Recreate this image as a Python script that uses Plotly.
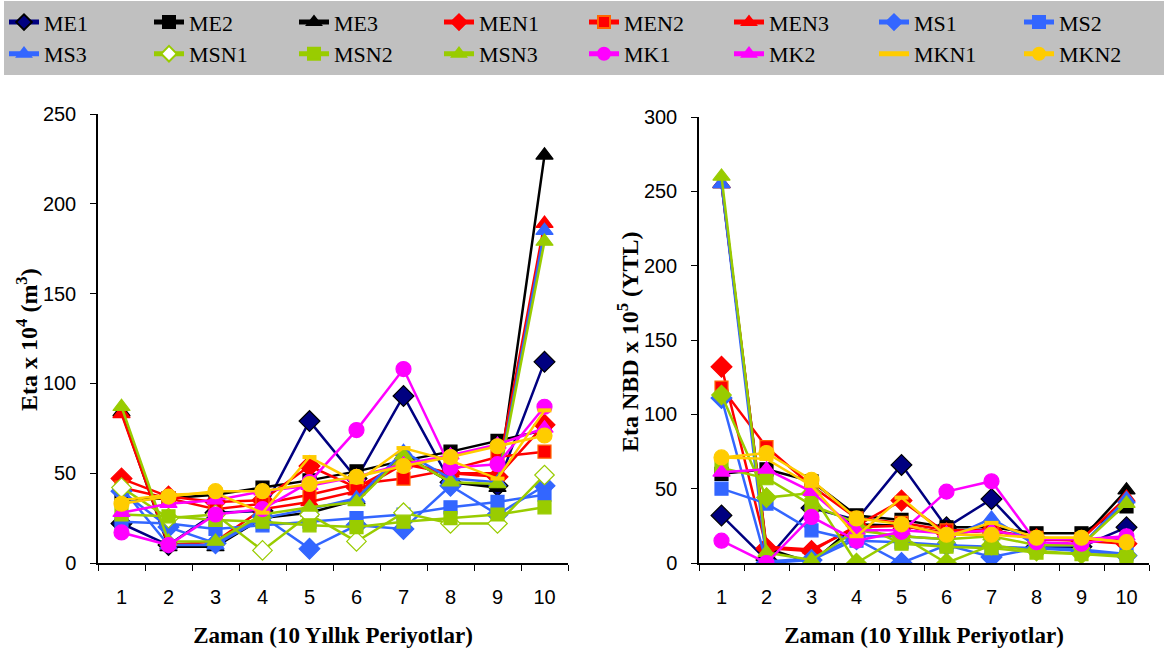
import plotly.graph_objects as go

categories = ["1", "2", "3", "4", "5", "6", "7", "8", "9", "10"]
series_names = ["ME1", "ME2", "ME3", "MEN1", "MEN2", "MEN3", "MS1", "MS2",
                "MS3", "MSN1", "MSN2", "MSN3", "MK1", "MK2", "MKN1", "MKN2"]

# Left chart: Eta x 10^4 (m3)
eta_ME1 = [22, 10, 28, 29, 79, 47, 93, 45, 43, 112]
eta_ME2 = [35, 36, 38, 42, 46, 51, 57, 62, 68, 74]
eta_ME3 = [84, 9, 9, 25, 28, 35, 60, 45, 42, 227]
eta_MEN1 = [47, 37, 34, 35, 54, 42, 56, 50, 48, 77]
eta_MEN2 = [42, 36, 30, 33, 38, 44, 47, 52, 59, 62]
eta_MEN3 = [83, 10, 12, 30, 34, 40, 55, 50, 50, 189]
eta_MS1 = [40, 20, 11, 26, 8, 21, 19, 43, 27, 43]
eta_MS2 = [23, 22, 19, 21, 23, 25, 27, 31, 34, 38]
eta_MS3 = [42, 10, 10, 25, 30, 36, 62, 47, 45, 185]
eta_MSN1 = [42, 25, 27, 7, 27, 12, 28, 22, 22, 49]
eta_MSN2 = [27, 26, 24, 23, 21, 20, 23, 25, 27, 31]
eta_MSN3 = [87, 12, 12, 27, 31, 34, 60, 45, 44, 179]
eta_MK1 = [17, 10, 27, 30, 45, 74, 108, 53, 55, 87]
eta_MK2 = [28, 33, 35, 40, 43, 48, 55, 60, 66, 75]
eta_MKN1 = [35, 38, 39, 28, 59, 45, 64, 57, 47, 85]
eta_MKN2 = [33, 37, 40, 40, 44, 48, 54, 59, 65, 71]

# Right chart: Eta NBD x 10^5 (YTL)
nbd_ME1 = [32, 2, 37, 29, 66, 24, 43, 11, 11, 24]
nbd_ME2 = [60, 63, 55, 32, 29, 24, 24, 20, 20, 38]
nbd_ME3 = [255, 10, 0, 26, 25, 20, 22, 16, 16, 49]
nbd_MEN1 = [132, 10, 8, 25, 42, 20, 22, 16, 15, 13]
nbd_MEN2 = [118, 78, 52, 30, 27, 22, 22, 17, 16, 15]
nbd_MEN3 = [255, 11, 9, 24, 25, 20, 22, 16, 16, 44]
nbd_MS1 = [111, 0, 2, 16, 0, 12, 4, 10, 8, 5]
nbd_MS2 = [50, 40, 22, 15, 14, 12, 11, 10, 9, 6]
nbd_MS3 = [255, 1, 3, 18, 18, 16, 30, 12, 12, 43]
nbd_MSN1 = [113, 44, 47, 0, 18, 0, 12, 8, 6, 5]
nbd_MSN2 = [64, 57, 39, 27, 13, 11, 10, 7, 6, 4]
nbd_MSN3 = [260, 7, 2, 22, 18, 16, 18, 12, 12, 40]
nbd_MK1 = [15, 0, 31, 15, 21, 48, 55, 14, 13, 18]
nbd_MK2 = [61, 63, 48, 22, 22, 20, 22, 16, 16, 18]
nbd_MKN1 = [71, 70, 52, 18, 44, 18, 27, 17, 17, 14]
nbd_MKN2 = [71, 74, 56, 30, 26, 19, 19, 17, 17, 14]

left_values = [eta_ME1, eta_ME2, eta_ME3, eta_MEN1, eta_MEN2, eta_MEN3, eta_MS1, eta_MS2,
               eta_MS3, eta_MSN1, eta_MSN2, eta_MSN3, eta_MK1, eta_MK2, eta_MKN1, eta_MKN2]
right_values = [nbd_ME1, nbd_ME2, nbd_ME3, nbd_MEN1, nbd_MEN2, nbd_MEN3, nbd_MS1, nbd_MS2,
                nbd_MS3, nbd_MSN1, nbd_MSN2, nbd_MSN3, nbd_MK1, nbd_MK2, nbd_MKN1, nbd_MKN2]

NAVY, BLACK, RED, BLUE, GREEN, MAG, YEL = "#000080", "#000000", "#FF0000", "#3366FF", "#99CC00", "#FF00FF", "#FFCC00"
# (line color, symbol, fill, outline, size)
styles = [
    (NAVY, "diamond", NAVY, BLACK, 16),
    (BLACK, "square", BLACK, BLACK, 13),
    (BLACK, "triangle-up", BLACK, BLACK, 15),
    (RED, "diamond", RED, RED, 16),
    (RED, "square", RED, "#FF6600", 13),
    (RED, "triangle-up", RED, RED, 15),
    (BLUE, "diamond", BLUE, BLUE, 16),
    (BLUE, "square", BLUE, BLUE, 13),
    (BLUE, "triangle-up", BLUE, BLUE, 15),
    (GREEN, "diamond", "#FFFFFF", GREEN, 15),
    (GREEN, "square", GREEN, GREEN, 13),
    (GREEN, "triangle-up", GREEN, GREEN, 15),
    (MAG, "circle", MAG, MAG, 15),
    (MAG, "triangle-up", MAG, MAG, 15),
    (YEL, "line-ew-open", YEL, YEL, 10),
    (YEL, "circle", YEL, YEL, 15),
]

fig = go.Figure()
for i, name in enumerate(series_names):
    lc, sym, fill, outline, size = styles[i]
    for side, vals in (("left", left_values[i]), ("right", right_values[i])):
        f = fill
        if name == "MSN1" and side == "right":
            f = GREEN
        lw = 4 if sym == "line-ew-open" else 1.2
        fig.add_trace(go.Scatter(
            x=categories, y=vals, name=name, legendgroup=name,
            showlegend=(side == "left"),
            mode="lines+markers",
            line=dict(color=lc, width=2.5),
            marker=dict(symbol=sym, size=size, color=f,
                        line=dict(color=outline, width=lw)),
            xaxis="x" if side == "left" else "x2",
            yaxis="y" if side == "left" else "y2",
        ))

tickfont = dict(family="Liberation Sans, Arial", size=20, color="#000000")
titlefont = dict(family="Liberation Serif, Times New Roman", size=23, color="#000000")
ytitlefont = dict(family="Liberation Serif, Times New Roman", size=24, color="#000000")

xcommon = dict(type="category", range=[-0.5, 9.5], showline=True, linecolor="#000000",
               linewidth=1.5, ticks="outside", tickson="boundaries", ticklen=6,
               tickcolor="#000000", showgrid=False, zeroline=False, tickfont=tickfont,
               ticklabelstandoff=15, fixedrange=True, automargin=False)
ycommon = dict(showline=True, linecolor="#000000", linewidth=1.5, ticks="outside",
               ticklen=6, tickcolor="#000000", showgrid=False, zeroline=False,
               tickfont=tickfont, ticklabelstandoff=10, fixedrange=True, automargin=False)

fig.update_layout(
    width=1164, height=657,
    margin=dict(l=0, r=0, t=0, b=0),
    paper_bgcolor="#FFFFFF", plot_bgcolor="#FFFFFF",
    xaxis=dict(xcommon, domain=[98 / 1164, 568 / 1164],
               title=dict(text="<b>Zaman (10 Yıllık Periyotlar)</b>", font=titlefont, standoff=20)),
    yaxis=dict(ycommon, domain=[94 / 657, 543 / 657], range=[0, 250], dtick=50),
    xaxis2=dict(xcommon, domain=[699 / 1164, 1149 / 1164], anchor="y2",
                title=dict(text="<b>Zaman (10 Yıllık Periyotlar)</b>", font=titlefont, standoff=20)),
    yaxis2=dict(ycommon, domain=[94 / 657, 540 / 657], range=[0, 300], dtick=50, anchor="x2"),
    legend=dict(orientation="h", x=0.004, y=0.998, xanchor="left", yanchor="top",
                bgcolor="#C0C0C0", font=dict(family="Liberation Serif, Times New Roman", size=22, color="#000000"),
                entrywidth=100, entrywidthmode="pixels", itemsizing="constant",
                traceorder="normal", tracegroupgap=0),
    showlegend=True,
    annotations=[
        dict(text="<b>Eta x 10<sup>4</sup> (m<sup>3</sup>)</b>", textangle=-90,
             x=27 / 1164, y=(657 - 340) / 657, xref="paper", yref="paper",
             xanchor="center", yanchor="middle", showarrow=False, font=ytitlefont),
        dict(text="<b>Eta NBD x 10<sup>5</sup> (YTL)</b>", textangle=-90,
             x=628 / 1164, y=(657 - 342) / 657, xref="paper", yref="paper",
             xanchor="center", yanchor="middle", showarrow=False, font=ytitlefont),
    ],
)

fig.write_html("out.html")
